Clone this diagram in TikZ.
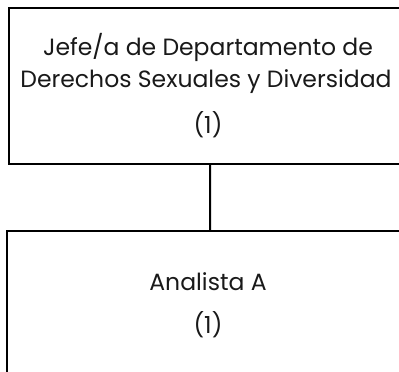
\documentclass[tikz,border=0pt]{standalone}
\usepackage{fontspec}
\setmainfont{Poppins}
\begin{document}
\begin{tikzpicture}[x=1bp,y=-1bp,
  box/.style={draw=black,line width=2.2bp,inner sep=0pt,anchor=north west},
  txt/.style={anchor=base,inner sep=0pt,font=\fontsize{23.6}{28}\selectfont,text=black!90}]
\useasboundingbox (0,0) rectangle (399,372);
\begin{scope}
\clip (0,0) rectangle (399,372);
\node[box,minimum width=402bp,minimum height=156bp] (jefe) at (8,7) {};
\node[box,minimum width=406bp,minimum height=156bp] (ana) at (6,230) {};
\draw[line width=2.2bp] (jefe.south) -- (ana.north);
\end{scope}
\node[txt] (t1) at (208,55) {Jefe/a de Departamento de};
\node[txt] (t2) at (206,87) {Derechos Sexuales y Diversidad};
\node[txt] (t3) at (208,133) {(1)};
\node[txt] (t4) at (208,290) {Analista A};
\node[txt] (t5) at (208,333) {(1)};
\end{tikzpicture}
\end{document}
